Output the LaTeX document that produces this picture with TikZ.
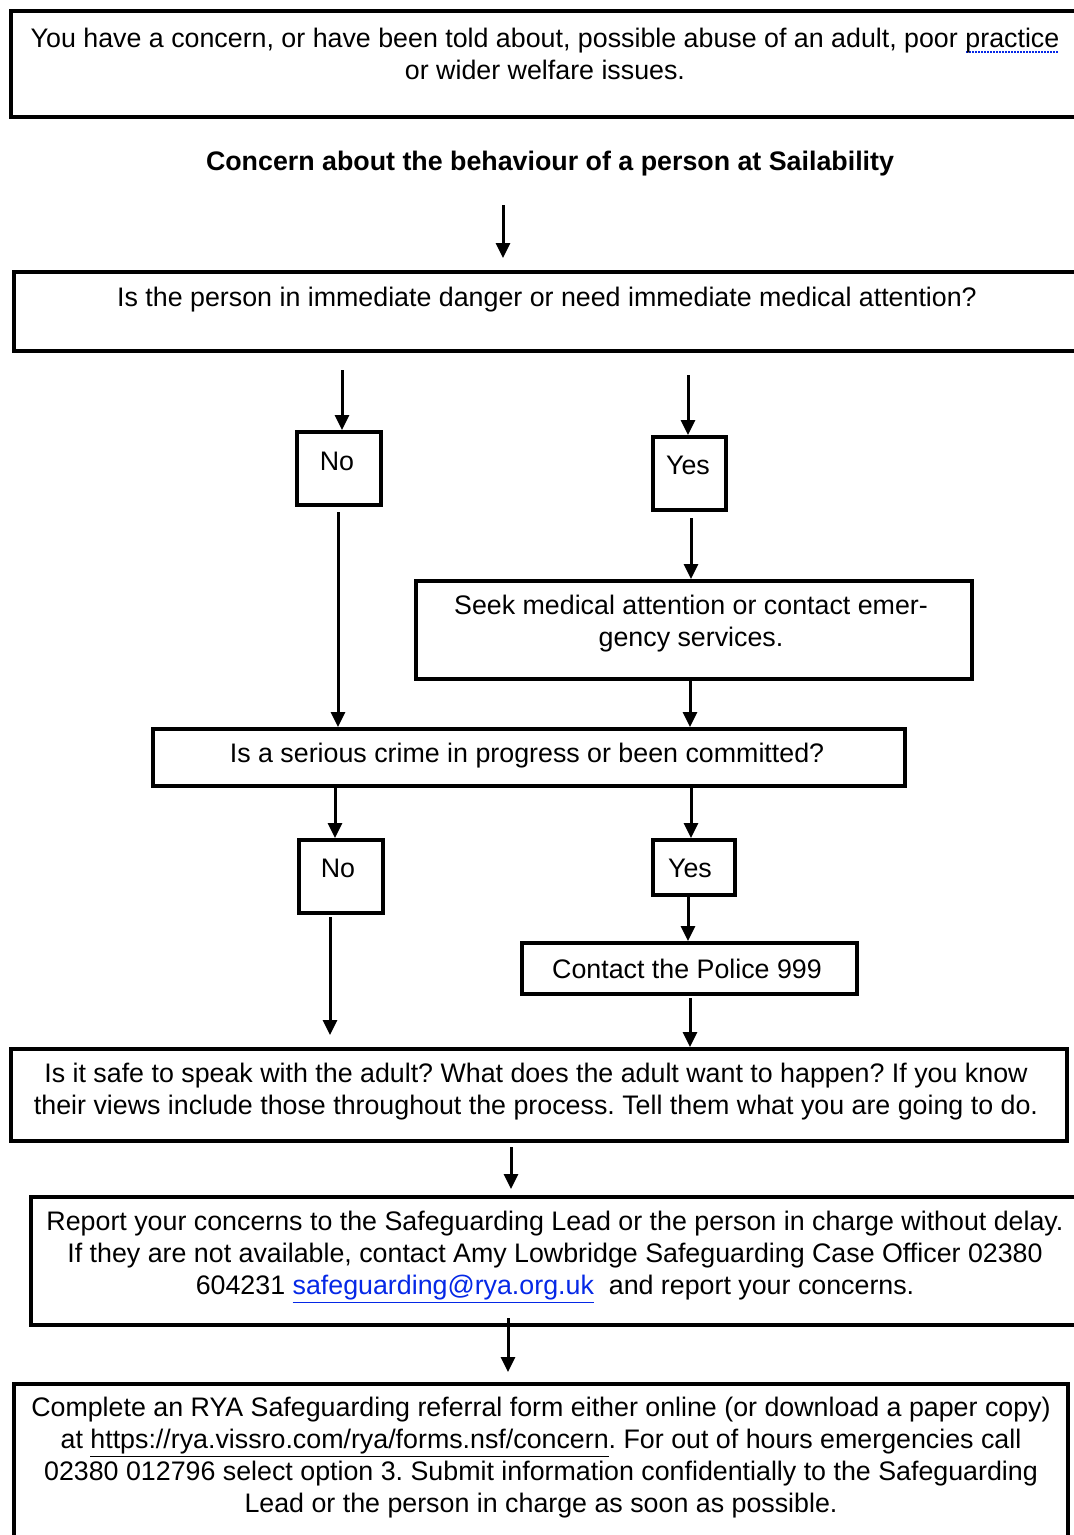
\documentclass[tikz,border=0pt]{standalone}
\usepackage{fontspec}
\setmainfont{Liberation Sans}
\usetikzlibrary{arrows.meta}
\definecolor{linkblue}{RGB}{5,40,230}
\newlength\dulw
\newcommand\dotul[1]{\settowidth\dulw{#1}\leavevmode\rlap{\raisebox{-5pt}{\color{linkblue}\hbox to \dulw{\leaders\hbox to 3pt{\hss\rule{1.6pt}{1.6pt}\hss}\hfill}}}#1}
\begin{document}
\frenchspacing
\begin{tikzpicture}[x=1pt,y=-1pt,
 box/.style={draw, line width=4pt, inner sep=0pt, anchor=north west},
 txt/.style={align=center, font=\fontsize{26.8}{32}\selectfont, inner sep=0pt},
 arr/.style={line width=3pt, -{Triangle[length=15pt,width=14pt]}}]
\useasboundingbox (0,0) rectangle (1074,1535);
\clip (0,0) rectangle (1074,1535);

% boxes
\node[box, minimum width=1080pt, minimum height=106pt] (top) at (9,9) {};
\node[box, minimum width=1075pt, minimum height=79pt] (q1) at (12,270) {};
\node[box, minimum width=84pt, minimum height=73pt] (no1) at (295,430) {};
\node[box, minimum width=73pt, minimum height=73pt] (yes1) at (651,435) {};
\node[box, minimum width=556pt, minimum height=98pt] (seek) at (414,579) {};
\node[box, minimum width=752pt, minimum height=57pt] (crime) at (151,727) {};
\node[box, minimum width=84pt, minimum height=73pt] (no2) at (297,838) {};
\node[box, minimum width=82pt, minimum height=55pt] (yes2) at (651,838) {};
\node[box, minimum width=335pt, minimum height=51pt] (police) at (520,941) {};
\node[box, minimum width=1056pt, minimum height=92pt] (safe) at (9,1047) {};
\node[box, minimum width=1060pt, minimum height=128pt] (report) at (29,1195) {};
\node[box, minimum width=1054pt, minimum height=175pt] (complete) at (12,1382) {};

% texts
\node[txt] (toptext) at (545,54) {You have a concern, or have been told about, possible abuse of an adult, poor \dotul{practice}\\or wider welfare issues.};
\node[txt, font=\fontsize{26.8}{32}\bfseries\selectfont] (title) at (550,164) {Concern about the behaviour of a person at Sailability};
\node[txt] (q1text) at (547,300) {Is the person in immediate danger or need immediate medical attention?};
\node[txt] (no1text) at (337,461) {No};
\node[txt] (yes1text) at (688,465) {Yes};
\node[txt] (seektext) at (691,624) {Seek medical attention or contact emer-\\gency services.};
\node[txt] (crimetext) at (527,756) {Is a serious crime in progress or been committed?};
\node[txt] (no2text) at (338,868) {No};
\node[txt] (yes2text) at (690,868) {Yes};
\node[txt] (policetext) at (687,969) {Contact the Police 999};
\node[txt] (safetext) at (536,1092) {Is it safe to speak with the adult? What does the adult want to happen? If you know\\their views include those throughout the process. Tell them what you are going to do.};
\node[txt] (reporttext) at (555,1257) {Report your concerns to the Safeguarding Lead or the person in charge without delay.\\If they are not available, contact Amy Lowbridge Safeguarding Case Officer 02380\\604231 \textcolor{linkblue}{\underline{safeguarding@rya.org.uk}}\ \ and report your concerns.};
\node[txt] (completetext) at (541,1458) {Complete an RYA Safeguarding referral form either online (or download a paper copy)\\at \underline{https://rya.vissro.com/rya/forms.nsf/concern}. For out of hours emergencies call\\02380 012796 select option 3. Submit information confidentially to the Safeguarding\\Lead or the person in charge as soon as possible.};

% arrow start points
\coordinate (s1) at (503,205);
\coordinate (s2) at (342,370);
\coordinate (s3) at (688,375);
\coordinate (s4) at (338,512);
\coordinate (s5) at (691,518);
\coordinate (s6) at (690,677);
\coordinate (s7) at (335,784);
\coordinate (s8) at (691,784);
\coordinate (s9) at (688,893);
\coordinate (s10) at (330,917);
\coordinate (s11) at (690,998);
\coordinate (s12) at (511,1147);
\coordinate (s13) at (508,1318);

\draw[arr, shorten >=12pt] (s1) -- (s1 |- q1.north);
\draw[arr] (s2) -- (s2 |- no1.north);
\draw[arr] (s3) -- (s3 |- yes1.north);
\draw[arr] (s4) -- (s4 |- crime.north);
\draw[arr] (s5) -- (s5 |- seek.north);
\draw[arr] (s6) -- (s6 |- crime.north);
\draw[arr] (s7) -- (s7 |- no2.north);
\draw[arr] (s8) -- (s8 |- yes2.north);
\draw[arr] (s9) -- (s9 |- police.north);
\draw[arr, shorten >=12pt] (s10) -- (s10 |- safe.north);
\draw[arr] (s11) -- (s11 |- safe.north);
\draw[arr, shorten >=6pt] (s12) -- (s12 |- report.north);
\draw[arr, shorten >=10pt] (s13) -- (s13 |- complete.north);
\end{tikzpicture}
\end{document}
